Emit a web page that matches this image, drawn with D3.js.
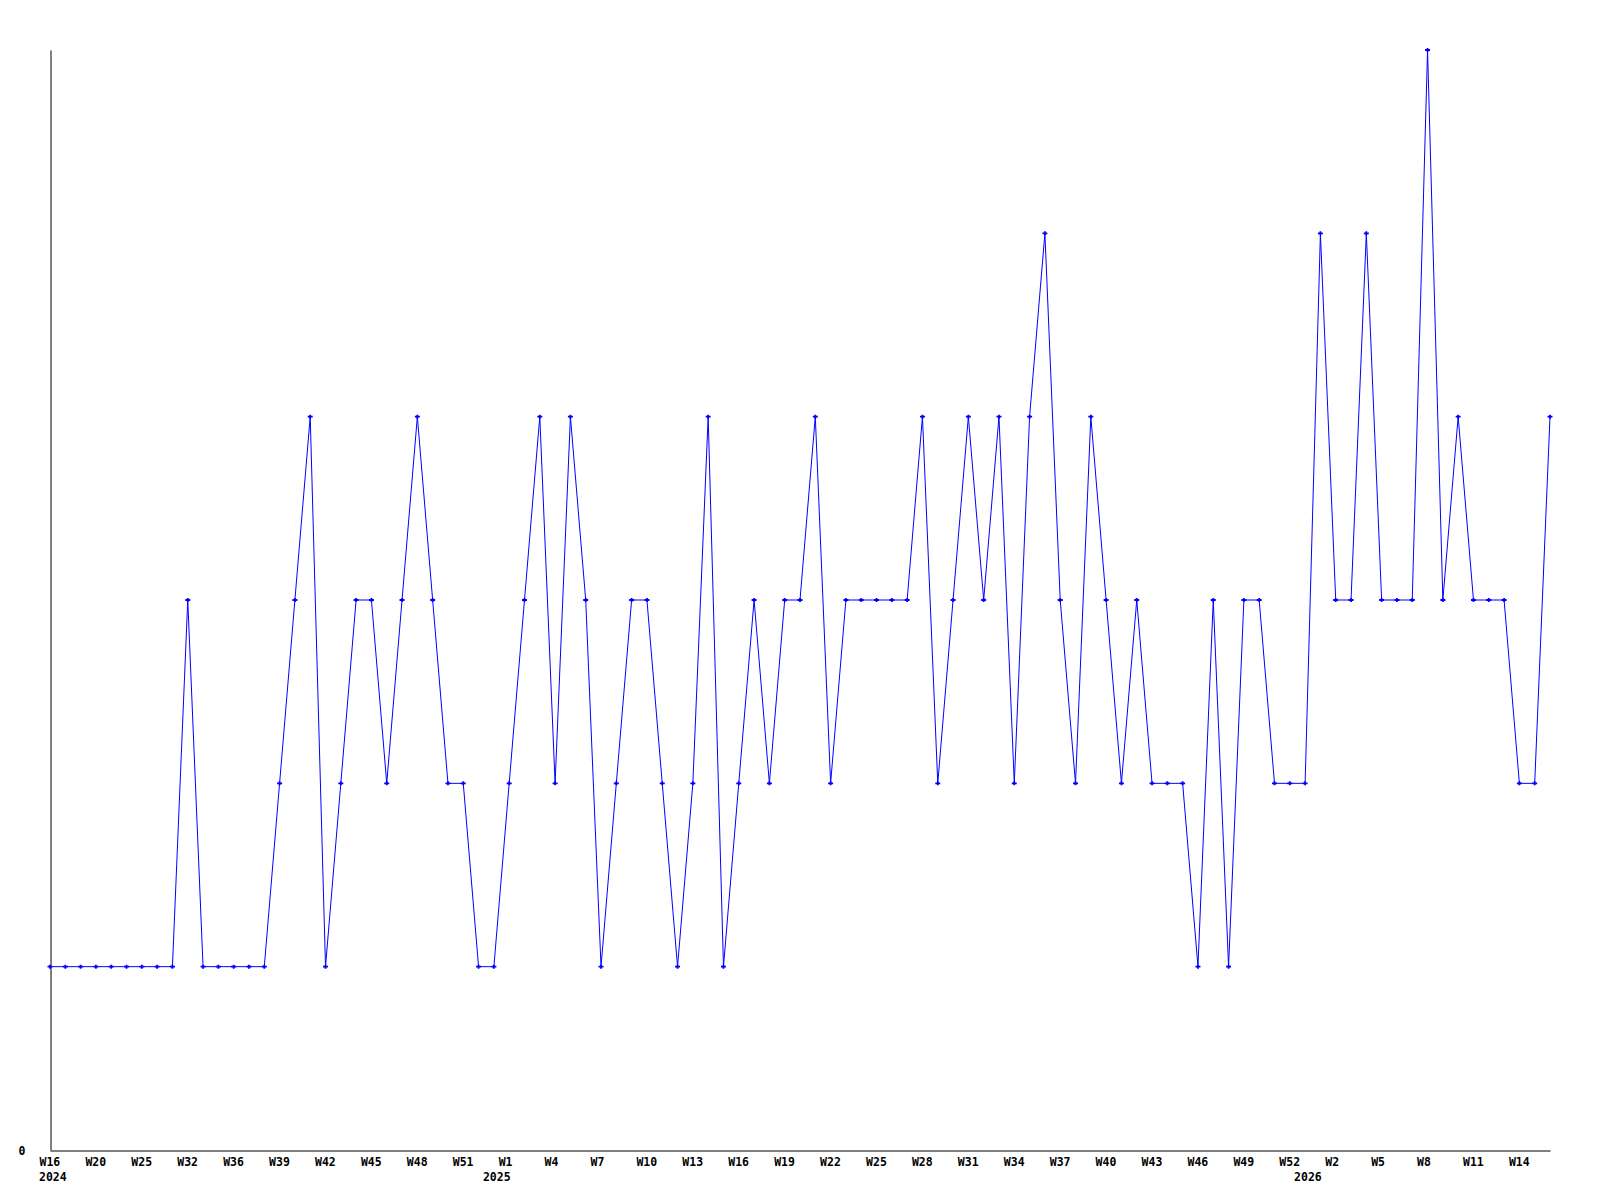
<!DOCTYPE html>
<html>
<head>
<meta charset="utf-8">
<script src="https://cdn.jsdelivr.net/npm/d3@7"></script>
<style>
  body { margin: 0; background: #fff; }
  text { font-family: "DejaVu Sans Mono", monospace; font-weight: bold; font-size: 11.5px; fill: #000; }
</style>
</head>
<body>
<div id="chart"></div>
<script>
// weeks shown on the x axis (one point per week that has data)
const years = [
  2024,2024,2024,2024,2024,2024,2024,2024,2024,2024,2024,2024,2024,2024,2024,2024,2024,2024,2024,2024,
  2024,2024,2024,2024,2024,2024,2024,2024,2024,
  2025,2025,2025,2025,2025,2025,2025,2025,2025,2025,2025,2025,2025,2025,2025,2025,2025,2025,2025,2025,
  2025,2025,2025,2025,2025,2025,2025,2025,2025,2025,2025,2025,2025,2025,2025,2025,2025,2025,2025,2025,
  2025,2025,2025,2025,2025,2025,2025,2025,2025,2025,2025,2025,2025,
  2026,2026,2026,2026,2026,2026,2026,2026,2026,2026,2026,2026,2026,2026,2026,2026,2026
];
const weeks = [
  16,17,19,20,22,23,25,27,29,32,33,35,36,37,38,39,40,41,42,43,44,45,46,47,48,49,50,51,52,
  0,1,2,3,4,5,6,7,8,9,10,11,12,13,14,15,16,17,18,19,20,21,22,23,24,25,26,27,28,29,30,31,32,33,34,35,36,
  37,38,39,40,41,42,43,44,45,46,47,48,49,50,51,52,
  0,1,2,3,4,5,6,7,8,9,10,11,12,13,14,15,16
];
const values = [
  1,1,1,1,1,1,1,1,1,3,1,1,1,1,1,2,3,4,1,2,3,3,2,3,4,3,2,2,1,
  1,2,3,4,2,4,3,1,2,3,3,2,1,2,4,1,2,3,2,3,3,4,2,3,3,3,3,3,4,2,3,4,3,4,2,4,5,
  3,2,4,3,2,3,2,2,2,1,3,1,3,3,2,2,
  2,5,3,3,5,3,3,3,6,3,4,3,3,3,2,2,4
];
const yMax = 6;

const width = 1600, height = 1200;
const margin = {top: 50, right: 50, bottom: 50, left: 50};

const svg = d3.select("#chart")
  .append("svg")
    .attr("width", width)
    .attr("height", height);

const idx = d3.range(values.length);

const x = d3.scalePoint()
  .domain(idx)
  .range([margin.left, width - margin.right]);

const y = d3.scaleLinear()
  .domain([0, yMax])
  .range([height - margin.bottom, margin.top]);

// x axis: a week label every third point
const xAxis = svg.append("g")
  .attr("transform", `translate(0, ${height - margin.bottom + 0.5})`)
  .call(d3.axisBottom(x)
    .tickValues(idx.filter(i => i % 3 === 0))
    .tickSize(0)
    .tickSizeOuter(0)
    .tickFormat(i => "W" + weeks[i]));
xAxis.select(".domain").attr("stroke", "#000");
xAxis.attr("font-size", null).attr("font-family", null);
xAxis.selectAll("text")
  .attr("text-anchor", "start")
  .attr("dx", -11)
  .attr("y", 0)
  .attr("dy", 15.5);

// year labels where the year starts
const yearStarts = idx.filter(i => i === 0 || years[i] !== years[i - 1]);
svg.append("g")
  .selectAll("text")
  .data(yearStarts)
  .join("text")
    .attr("x", i => x(i) - 11)
    .attr("y", height - margin.bottom + 31)
    .text(i => years[i]);

// y axis: only the zero is labelled
const yAxis = svg.append("g")
  .attr("transform", `translate(${margin.left + 0.5}, 0)`)
  .call(d3.axisLeft(y)
    .tickValues([0])
    .tickSize(0)
    .tickSizeOuter(0)
    .tickFormat(d3.format("d")));
yAxis.select(".domain").attr("stroke", "#000");
yAxis.attr("font-size", null).attr("font-family", null);
yAxis.selectAll("text")
  .attr("x", -25)
  .attr("dy", "0.4em");

// the line
svg.append("path")
  .datum(idx)
  .attr("fill", "none")
  .attr("stroke", "#0000ff")
  .attr("stroke-width", 1)
  .attr("d", d3.line()
    .x(i => x(i))
    .y(i => y(values[i])));

// small cross markers on each point
svg.append("g")
  .selectAll("path")
  .data(idx)
  .join("path")
    .attr("fill", "none")
    .attr("stroke", "#0000ff")
    .attr("stroke-width", 1.8)
    .attr("d", i => {
      const px = x(i), py = y(values[i]);
      return `M${px - 2.5},${py}H${px + 2.5}M${px},${py - 2}V${py + 2}`;
    });
</script>
</body>
</html>
